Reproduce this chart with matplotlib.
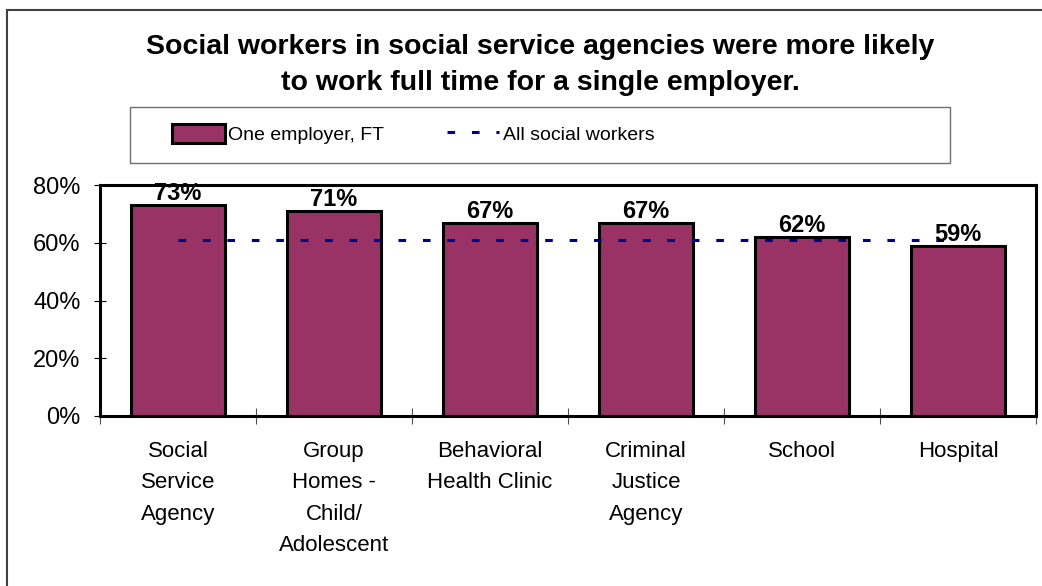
import matplotlib
matplotlib.use("Agg")
from matplotlib import pyplot as plt
from matplotlib.patches import Rectangle
from matplotlib.lines import Line2D
import numpy as np

plt.rcParams['font.family'] = ['Liberation Sans', 'DejaVu Sans']

categories = ["Social\nService\nAgency", "Group\nHomes -\nChild/\nAdolescent",
              "Behavioral\nHealth Clinic", "Criminal\nJustice\nAgency",
              "School", "Hospital"]
one_employer_ft = [0.73, 0.71, 0.67, 0.67, 0.62, 0.59]
all_social_workers = [0.61, 0.61, 0.61, 0.61, 0.61, 0.61]
y_ticks = [0.0, 0.2, 0.4, 0.6, 0.8]
title = "Social workers in social service agencies were more likely\nto work full time for a single employer."

W, H = 1042, 586
fig = plt.figure(figsize=(W / 100, H / 100), dpi=100)

# outer chart border (runs off the right and bottom of the picture)
fig.add_artist(Line2D([7 / W, 7 / W], [0, 1 - 10 / H], color="#404040", lw=1.5))
fig.add_artist(Line2D([7 / W, 1], [1 - 10 / H, 1 - 10 / H], color="#404040", lw=1.5))

ax = fig.add_axes([100 / W, 1 - 416 / H, 936 / W, (416 - 185) / H])
x = np.arange(len(categories))
bars = ax.bar(x, one_employer_ft, width=0.6, color="#993366", edgecolor="black",
              linewidth=2.2, label="One employer, FT", zorder=2)
line, = ax.plot(x, all_social_workers, color="#000080", lw=2.2,
                linestyle=(0, (2.5, 5.5)), label="All social workers", zorder=3)
labels = ax.bar_label(bars, labels=[f"{v:.0%}" for v in one_employer_ft],
                      padding=0, fontsize=17, fontweight="bold")
for t in labels:
    t.set_zorder(5)
    t.set_clip_on(False)

ax.set_xlim(-0.5, len(categories) - 0.5)
ax.set_ylim(0, 0.8)
ax.set_yticks(y_ticks)
ax.set_yticklabels([f"{v:.0%}" for v in y_ticks], fontsize=17)
ax.tick_params(axis="y", direction="inout", length=8, width=0.8, pad=10)
ax.set_xticks(x)
ax.set_xticklabels(categories, fontsize=16, linespacing=1.65, va="top")
ax.tick_params(axis="x", which="major", length=0, pad=18)
ax.set_xticks(np.arange(-0.5, len(categories)), minor=True)
ax.tick_params(axis="x", which="minor", direction="inout", length=11, width=0.8, color="#505050")
for s in ax.spines.values():
    s.set_linewidth(2.2)
    s.set_color("black")

fig.text(0.5 * (130 + 950) / W, 1 - 65 / H, title, ha="center", va="center",
         fontsize=20.5, fontweight="bold", linespacing=1.45)

# legend box
fig.add_artist(Rectangle((130 / W, 1 - 163 / H), 820 / W, 56 / H, transform=fig.transFigure,
                         fill=False, edgecolor="#707070", lw=1))
fig.legend(handles=[bars, line], loc="center left", bbox_to_anchor=(172 / W, 1 - 134 / H),
           ncol=2, frameon=False, fontsize=14, handlelength=2.7, handleheight=1.1,
           handletextpad=0.2, columnspacing=3.2, borderpad=0, borderaxespad=0)

fig.savefig("out.png", dpi=100)
